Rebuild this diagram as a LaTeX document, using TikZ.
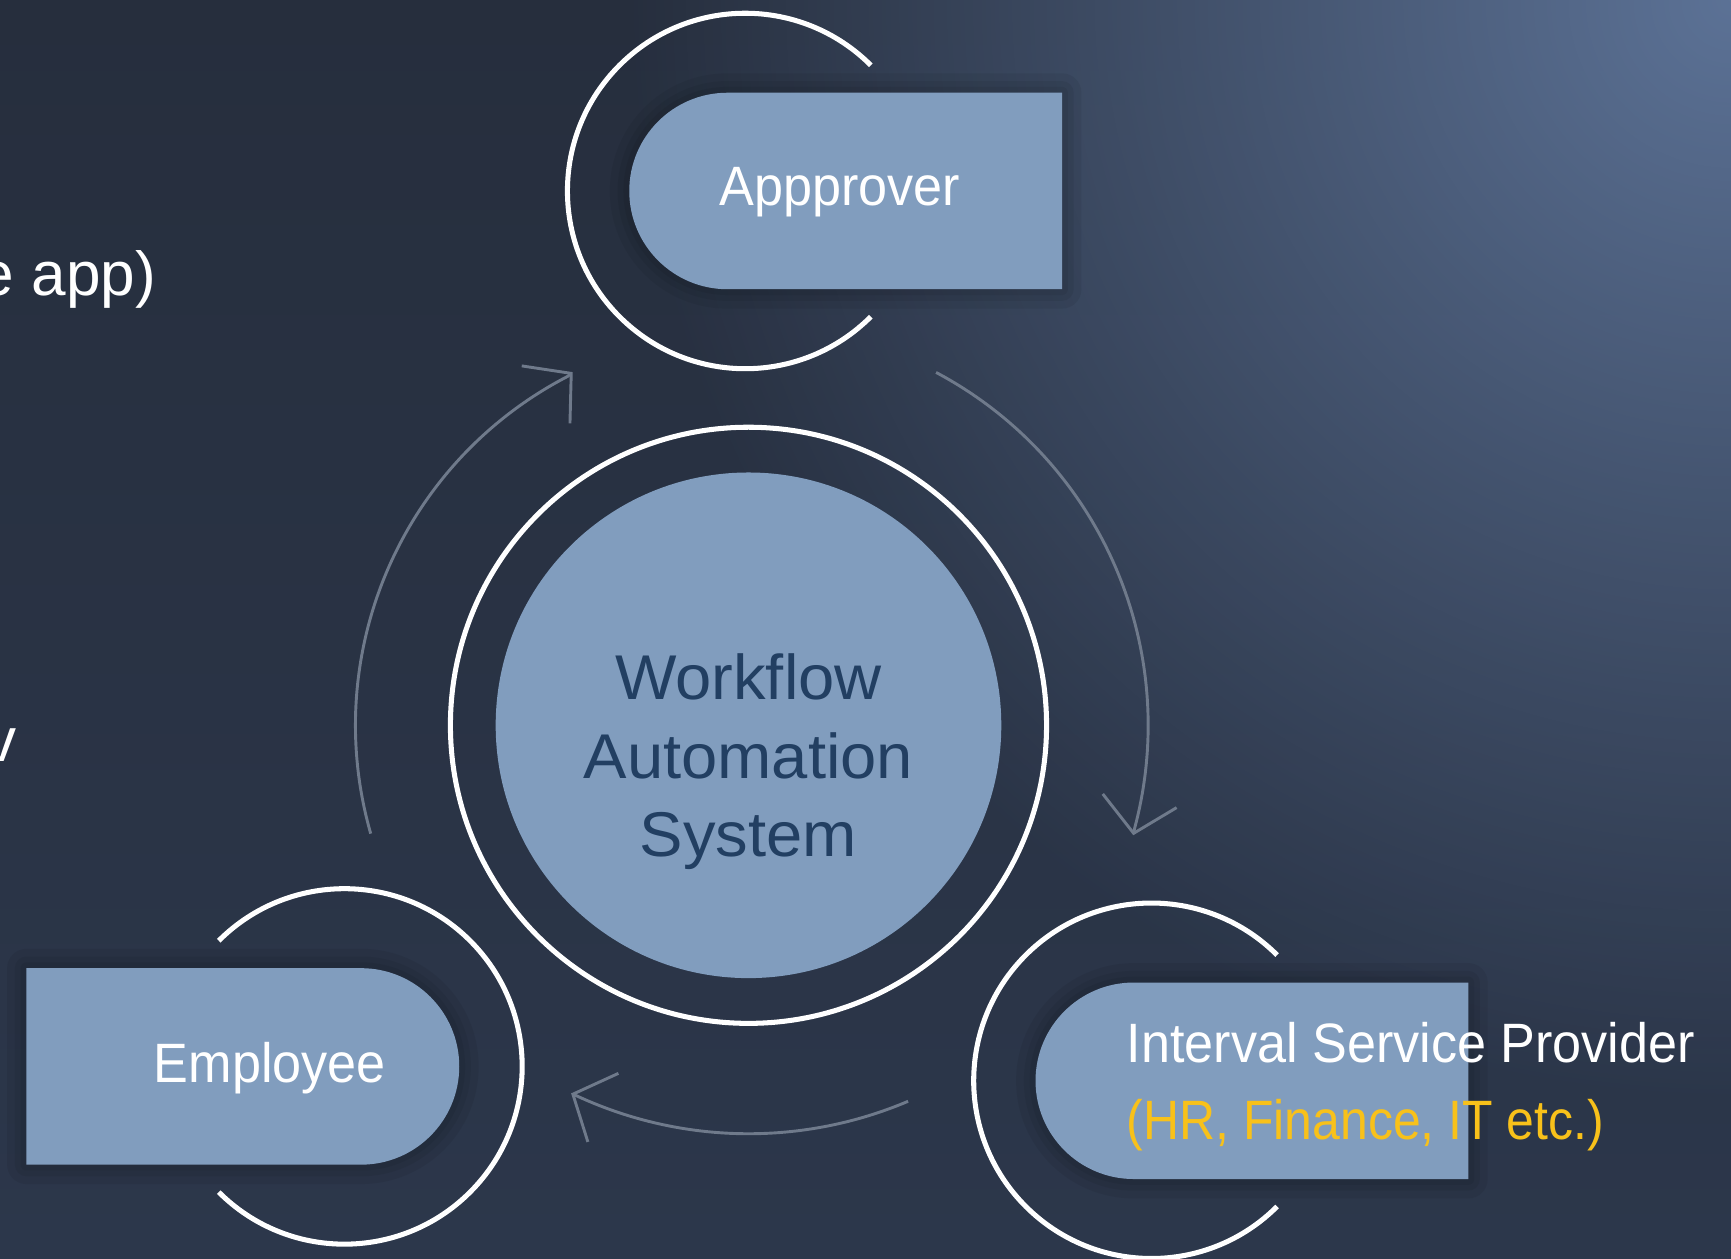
\documentclass[tikz,border=0pt]{standalone}
\usepackage{fontspec}
\setmainfont{Liberation Sans}[FakeStretch = 0.94]
\newfontfamily\wfafont{Liberation Sans}[FakeStretch = 1.03]
\newfontfamily\deptfont{Liberation Sans}[FakeStretch = 0.90]
\newfontfamily\notefont{Liberation Sans}
\usetikzlibrary{arrows.meta,fadings}

\definecolor{bgtop}{HTML}{262E3D}
\definecolor{bgbottom}{HTML}{2C374B}
\definecolor{bgglow}{HTML}{5C7296}
\definecolor{rolefill}{HTML}{819DBE}
\definecolor{wfatext}{HTML}{223F62}
\definecolor{flowgray}{HTML}{6F7A8B}
\definecolor{deptyellow}{HTML}{F8C11A}

\tikzfading[name = glowfade, inner color = transparent!0, outer color = transparent!100]

% pill shapes, round end on the left or on the right
\newcommand{\pillleft}[1]{(#1) ++(-0.16,0.89) arc[start angle=90, end angle=270, radius=0.89] -- ++(3.03,0) -- ++(0,1.78) -- cycle}
\newcommand{\pillright}[1]{(#1) ++(0.15,0.89) arc[start angle=90, end angle=-90, radius=0.89] -- ++(-3.03,0) -- ++(0,1.78) -- cycle}

\tikzset{
	ring/.style = {draw = white, line width = 1.3pt},
	flow/.style = {draw = flowgray, line width = 0.75pt, ->},
	role/.style = {text = white, font = \fontsize{14.3}{17}\selectfont, inner sep = 0pt},
	note/.style = {text = white, font = \notefont\fontsize{16}{19}\selectfont, inner sep = 0pt},
	halo/.style = {draw = black, opacity = 0.06, line join = round},
}

\begin{document}
\begin{tikzpicture}[> = {Straight Barb[length = 0.3cm, width = 0.68cm]}]

	% Background
	
	\useasboundingbox (0, 0) rectangle (15.68, 11.40);
	\shade [top color = bgtop, bottom color = bgbottom] (0, 0) rectangle (15.68, 11.40);
	\fill [bgglow, path fading = glowfade] (15.68, 11.40) circle (10 cm);
	
	% Text cut off at the left edge
	
	\node [note, anchor = base east] (app-note) at (1.42, 8.72) {e app)};
	\node [note, anchor = base east] (v-note) at (0.16, 4.50) {v};
	
	% Workflow automation system
	
	\node [circle, fill = rolefill, minimum size = 4.58 cm, inner sep = 0pt] (wfa) at (6.78, 4.83) {};
	\draw [ring] (wfa.center) circle (2.70 cm);
	\node [text = wfatext, font = \wfafont\fontsize{16.3}{20.2}\selectfont, align = center] (wfa-label) at ([yshift = -0.33 cm] wfa.center) {Workflow\\Automation\\System};
	
	% Flow round the system (short last piece turns the tip)
	
	\draw [flow] (wfa.center) ++(62 : 3.62) arc [start angle = 62, end angle = -15, radius = 3.62] -- ++(-100.5 : 0.06);
	\draw [flow] (wfa.center) ++(-67 : 3.70) arc [start angle = -67, end angle = -114.8, radius = 3.70] -- ++(156 : 0.06);
	\draw [flow] (wfa.center) ++(196 : 3.56) arc [start angle = 196, end angle = 117.4, radius = 3.56] -- ++(40 : 0.06);
	
	% Roles w/rings
	
	\coordinate (appr) at (6.75, 9.67);
	\coordinate (empl) at (3.12, 1.74);
	\coordinate (isp) at (10.43, 1.61);
	
	\draw [ring] (appr) ++(45 : 1.61) arc [start angle = 45, end angle = 315, radius = 1.61];
	\draw [ring] (isp) ++(45 : 1.61) arc [start angle = 45, end angle = 315, radius = 1.61];
	\draw [ring] (empl) ++(-135 : 1.61) arc [start angle = -135, end angle = 135, radius = 1.61];
	
	\foreach \w in {10, 6, 3} {
		\draw [halo, line width = \w pt] \pillleft{appr};
		\draw [halo, line width = \w pt] \pillleft{isp};
		\draw [halo, line width = \w pt] \pillright{empl};
	}
	\fill [rolefill] \pillleft{appr};
	\fill [rolefill] \pillleft{isp};
	\fill [rolefill] \pillright{empl};
	
	\node [role, anchor = base] (appr-label) at (7.605, 9.54) {Appprover};
	\node [role, anchor = base] (empl-label) at (2.445, 1.59) {Employee};
	\node [role, anchor = base west] (isp-label) at (10.20, 1.78) {Interval Service Provider};
	\node [role, anchor = base west, text = deptyellow, font = \deptfont\fontsize{14.3}{17}\selectfont] (isp-depts) at (10.20, 1.08) {(HR, Finance, IT etc.)};
	
\end{tikzpicture}
\end{document}
